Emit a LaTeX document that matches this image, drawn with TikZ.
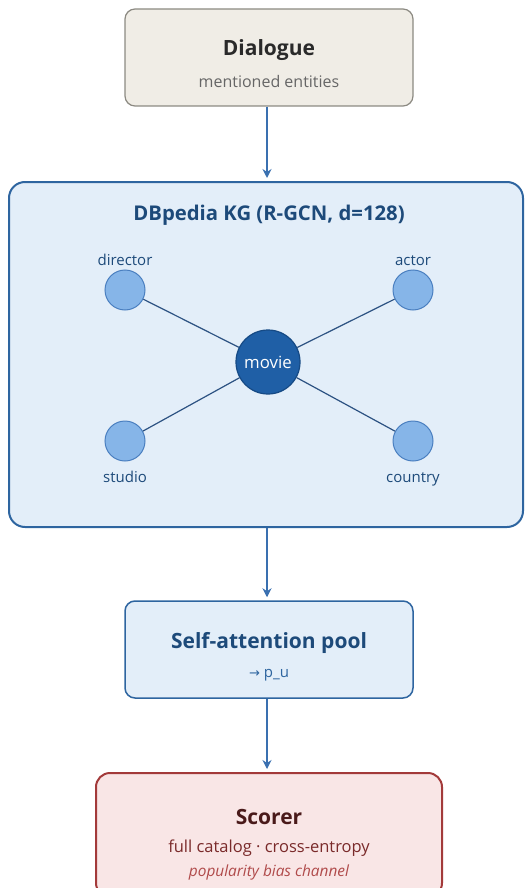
\documentclass[tikz,border=0pt]{standalone}
\usepackage{fontspec}
\setmainfont{Open Sans}
\newfontfamily\symfont{DejaVu Sans}
\usetikzlibrary{arrows.meta}
\definecolor{beigefill}{HTML}{F0EDE6}
\definecolor{beigedraw}{HTML}{8C8A82}
\definecolor{bluefill}{HTML}{E3EEF9}
\definecolor{bluedraw}{HTML}{2E65A0}
\definecolor{bluetext}{HTML}{1D4A7A}
\definecolor{lightnode}{HTML}{86B5E8}
\definecolor{lightnodedraw}{HTML}{4A7FC0}
\definecolor{darknode}{HTML}{1F5FA6}
\definecolor{darknodedraw}{HTML}{164A85}
\definecolor{edgecol}{HTML}{2C5282}
\definecolor{arrowcol}{HTML}{3A70B0}
\definecolor{redfill}{HTML}{F9E6E6}
\definecolor{reddraw}{HTML}{A33A3A}
\definecolor{redtitle}{HTML}{4A1A1A}
\definecolor{redsub}{HTML}{7A2A2A}
\definecolor{reditalic}{HTML}{B04A4A}
\definecolor{graytext}{HTML}{666666}
\definecolor{darktext}{HTML}{2A2A2A}
\tikzset{
  box/.style={draw, rounded corners=10pt, inner sep=0pt},
  arr/.style={draw=arrowcol, line width=1.8pt, -{Stealth[length=9pt,width=9pt]}, shorten >=3pt},
  leaf/.style={circle, draw=lightnodedraw, fill=lightnode, line width=1pt, minimum size=40pt, inner sep=0pt},
  leaflabel/.style={text=bluetext, font=\fontsize{15}{17}\selectfont},
  edge/.style={draw=edgecol, line width=1.2pt},
  title/.style={font=\bfseries\fontsize{21}{24}\selectfont},
}
\begin{document}
\begin{tikzpicture}[x=1pt,y=-1pt]
\clip (0,0) rectangle (525,888);
\useasboundingbox (0,0) rectangle (525,888);
% Dialogue
\node[box, fill=beigefill, draw=beigedraw, line width=1.2pt, minimum width=288pt, minimum height=97pt] (dlg) at (269,57.5) {};
\node[title, text=darktext] (dlgt) at (269,50) {Dialogue};
\node[text=graytext, font=\fontsize{16}{18}\selectfont] (dlgs) at (269,82) {mentioned entities};
% KG
\node[box, rounded corners=16pt, fill=bluefill, draw=bluedraw, line width=2pt, minimum width=514pt, minimum height=345pt] (kg) at (266,354.5) {};
\node[text=bluetext, font=\bfseries\fontsize{20.3}{23}\selectfont] (kgt) at (269,215) {DBpedia KG (R-GCN, d=128)};
\node[leaf] (dir) at (125,290) {};
\node[leaf] (act) at (413,290) {};
\node[leaf] (stu) at (125,441) {};
\node[leaf] (cou) at (413,441) {};
\node[circle, draw=darknodedraw, fill=darknode, line width=1.2pt, minimum size=64pt, inner sep=0pt, text=white, font=\fontsize{16.8}{19}\selectfont] (mov) at (268,362) {movie};
\draw[edge] (dir) -- (mov);
\draw[edge] (act) -- (mov);
\draw[edge] (stu) -- (mov);
\draw[edge] (cou) -- (mov);
\node[leaflabel, anchor=base] (dirl) at (125,265) {director};
\node[leaflabel, anchor=base] (actl) at (413,265) {actor};
\node[leaflabel, anchor=base] (stul) at (125,482) {studio};
\node[leaflabel, anchor=base] (coul) at (413,482) {country};
% Self-attention
\node[box, fill=bluefill, draw=bluedraw, line width=1.5pt, minimum width=288pt, minimum height=97pt] (sa) at (269,649.5) {};
\node[title, text=bluetext] (sat) at (269,643) {Self-attention pool};
\node[text=bluedraw, font=\fontsize{15}{17}\selectfont] (sas) at (269,675) {{\symfont\fontsize{13}{15}\selectfont →} p\_u};
% Scorer
\node[box, rounded corners=14pt, fill=redfill, draw=reddraw, line width=2pt, minimum width=346pt, minimum height=124pt] (sc) at (269,835) {};
\node[title, text=redtitle] (sct) at (269,817) {Scorer};
\node[text=redsub, font=\fontsize{16.5}{19}\selectfont] (scs) at (269,848) {full catalog · cross-entropy};
\node[text=reditalic, font=\itshape\fontsize{15.4}{18}\selectfont] (sci) at (269,872) {popularity bias channel};
% arrows
\draw[arr] (dlg.south -| 267,0) -- (kg.north -| 267,0);
\draw[arr] (kg.south -| 267,0) -- (sa.north -| 267,0);
\draw[arr] (sa.south -| 267,0) -- (sc.north -| 267,0);
\end{tikzpicture}
\end{document}
